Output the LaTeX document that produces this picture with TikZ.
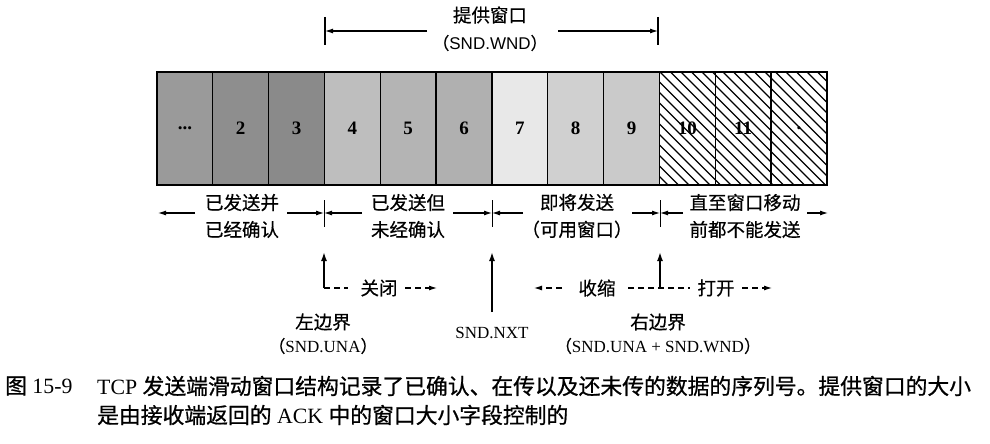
\documentclass[tikz,border=0pt]{standalone}
\usepackage{fontspec}
\setmainfont{Liberation Serif}
\newfontfamily\cjk{Noto Sans CJK SC}[FakeBold=0.4]
\newfontfamily\cjkb{Noto Sans CJK SC}[FakeBold=0.8]
\newfontfamily\sansf{Liberation Sans}
\usetikzlibrary{arrows.meta}
\definecolor{gA}{HTML}{9A9A9A}
\definecolor{gB}{HTML}{8E8E8E}
\definecolor{gC}{HTML}{8A8A8A}
\definecolor{gD}{HTML}{BEBEBE}
\definecolor{gE}{HTML}{B4B4B4}
\definecolor{gF}{HTML}{B0B0B0}
\definecolor{gG}{HTML}{E8E8E8}
\definecolor{gH}{HTML}{D0D0D0}
\definecolor{gI}{HTML}{CACACA}
\begin{document}
\begin{tikzpicture}[x=1pt,y=-1pt,
  cell/.style={draw, line width=1.3pt, minimum width=55.83pt, minimum height=113pt, inner sep=0pt,
    font=\fontsize{19}{22}\selectfont\bfseries},
  lab/.style={font=\cjk\fontsize{18.5}{27}\selectfont, align=center, inner sep=0pt},
  lat/.style={font=\fontsize{17}{20}\selectfont, inner sep=0pt},
  arr/.style={line width=1.1pt, -{Latex[length=8pt,width=5pt]}},
  varr/.style={line width=1.6pt, -{Latex[length=9pt,width=6pt]}},
  tick/.style={line width=1pt},
  bar/.style={line width=2pt},
  dsh/.style={line width=1.1pt, dash pattern=on 6pt off 4pt},
  darr/.style={line width=1.1pt, dash pattern=on 6pt off 4pt, -{Latex[length=8pt,width=5pt]}},
  hatch/.style={line width=1.1pt},
  capt/.style={anchor=west, inner sep=0pt, font=\fontsize{21.8}{24}\selectfont}
]
\useasboundingbox (0,0) rectangle (990,444);

% hatching of the last three cells
\begin{scope}
  \clip (659.96,72) rectangle (827,185);
  \foreach \k in {-12,...,17} \draw[hatch] (660+\k*10.5,72) -- ++(113,113);
\end{scope}

% cells
\node[cell, fill=gA] (c1) at (184.9,128.5) {...};
\node[cell, fill=gB] (c2) at (240.7,128.5) {2};
\node[cell, fill=gC] (c3) at (296.6,128.5) {3};
\node[cell, fill=gD] (c4) at (352.4,128.5) {4};
\node[cell, fill=gE] (c5) at (408.2,128.5) {5};
\node[cell, fill=gF] (c6) at (464.1,128.5) {6};
\node[cell, fill=gG] (c7) at (519.9,128.5) {7};
\node[cell, fill=gH] (c8) at (575.7,128.5) {8};
\node[cell, fill=gI] (c9) at (631.6,128.5) {9};
\node[cell] (c10) at (687.4,128.5) {10};
\node[cell] (c11) at (743.2,128.5) {11};
\node[cell] (c12) at (799.1,128.5) {.};

% offered window
\node[lab] (offer) at (490,15) {提供窗口};
\node[inner sep=0pt, font=\fontsize{17}{20}\selectfont] (offerv) at (490,43) {{\cjk （}\sansf SND.WND{\cjk ）}};
\coordinate (tlt) at (325,17); \coordinate (tlb) at (325,45);
\coordinate (trt) at (658,17); \coordinate (trb) at (658,45);
\coordinate (tl) at (325,31); \coordinate (tr) at (658,31);
\coordinate (tls) at (427,31); \coordinate (trs) at (558,31);
\draw[bar] (tlt) -- (tlb);
\draw[bar] (trt) -- (trb);
\draw[arr] (tls) -- (tl);
\draw[arr] (trs) -- (tr);

% segment labels
\node[lab] (s1) at (242,216) {已发送并\\已经确认};
\node[lab] (s2) at (408,216) {已发送但\\未经确认};
\node[lab] (s3) at (577,216) {即将发送\\（可用窗口）};
\node[lab] (s4) at (745,216) {直至窗口移动\\前都不能发送};

% ticks
\coordinate (k1t) at (324,200); \coordinate (k1b) at (324,227);
\coordinate (k2t) at (492,200); \coordinate (k2b) at (492,227);
\coordinate (k3t) at (660,200); \coordinate (k3b) at (660,227);
\draw[tick] (k1t) -- (k1b);
\draw[tick] (k2t) -- (k2b);
\draw[tick] (k3t) -- (k3b);

% segment arrows
\coordinate (k0) at (158,213); \coordinate (k1) at (324,213);
\coordinate (k2) at (492,213); \coordinate (k3) at (660,213); \coordinate (k4) at (828,213);
\coordinate (a1l) at (195,213); \coordinate (a1r) at (287,213);
\coordinate (a2l) at (362,213); \coordinate (a2r) at (453,213);
\coordinate (a3l) at (523,213); \coordinate (a3r) at (632,213);
\coordinate (a4l) at (683,213); \coordinate (a4r) at (807,213);
\draw[arr] (a1l) -- (k0); \draw[arr] (a1r) -- (k1);
\draw[arr] (a2l) -- (k1); \draw[arr] (a2r) -- (k2);
\draw[arr] (a3l) -- (k2); \draw[arr] (a3r) -- (k3);
\draw[arr] (a4l) -- (k3); \draw[arr] (a4r) -- (k4);

% vertical pointers
\coordinate (lb) at (324,288); \coordinate (lt) at (324,252);
\coordinate (nb) at (492,312); \coordinate (nt) at (492,252);
\coordinate (rb) at (660,288); \coordinate (rt) at (660,252);
\draw[varr] (lb) -- (lt);
\draw[varr] (nb) -- (nt);
\draw[varr] (rb) -- (rt);

% close / shrink / open
\node[lab] (close) at (379,288) {关闭};
\coordinate (cl1) at (348,288); \coordinate (cl2) at (405,288); \coordinate (cl3) at (437,288);
\draw[dsh] (lb) -- (cl1);
\draw[darr] (cl2) -- (cl3);
\node[lab] (shrink) at (597,288) {收缩};
\coordinate (sh1) at (562,288); \coordinate (sh2) at (534,288);
\draw[darr] (sh1) -- (sh2);
\coordinate (md1) at (628,288); \coordinate (md2) at (690,288);
\draw[dsh] (md1) -- (md2);
\node[lab] (open) at (716,288) {打开};
\coordinate (op1) at (742,288); \coordinate (op2) at (772,288);
\draw[darr] (op1) -- (op2);

% names
\node[lab] (lname) at (323,322) {左边界};
\node[lat] (lval) at (323,346) {{\cjk （}SND.UNA{\cjk ）}};
\node[lat] (nname) at (492,333) {SND.NXT};
\node[lab] (rname) at (658,322) {右边界};
\node[lat] (rval) at (658,346) {{\cjk （}SND.UNA + SND.WND{\cjk ）}};

% caption
\node[capt] (capn) at (5,386) {{\cjkb 图} 15-9};
\node[capt] (cap1) at (97,386)
  {TCP {\cjkb 发送端滑动窗口结构记录了已确认、在传以及还未传的数据的序列号。提供窗口的大小}};
\node[capt] (cap2) at (97,415)
  {{\cjkb 是由接收端返回的} ACK {\cjkb 中的窗口大小字段控制的}};
\end{tikzpicture}
\end{document}
